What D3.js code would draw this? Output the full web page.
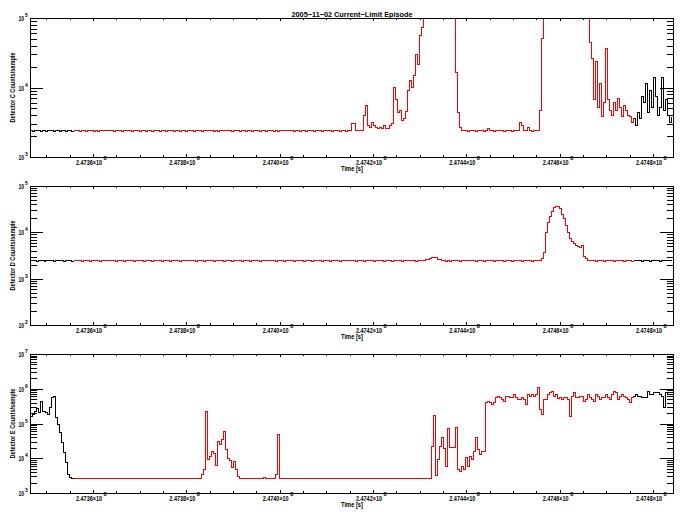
<!DOCTYPE html>
<html>
<head>
<meta charset="utf-8">
<script src="https://cdn.jsdelivr.net/npm/d3@7"></script>
<style>
body { margin: 0; background: #fff; }
svg { display: block; }
text { font-family: "Liberation Sans", Arial, sans-serif; font-weight: bold; fill: #000; }
</style>
</head>
<body>
<svg id="chart" width="684" height="518"></svg>
<script>
'use strict'

const title = '2005\u221211\u221202 Current\u2212Limit Episode'
const xTitle = 'Time [s]'

// sampling grid of the three detector series (seconds)
const t0 = 247346500, dt = 428.57
const tMin = 247346500, tMax = 247484290
// interval drawn in red
const redStart = 247355800, redEnd = 247476200

const xMajor = [247360000, 247380000, 247400000, 247420000, 247440000, 247460000, 247480000]
const xMajorLabels = ['2.4736', '2.4738', '2.4740', '2.4742', '2.4744', '2.4746', '2.4748']

const detC = [
    2370, 2290, 2445, 2370, 2370, 2290, 2445, 2370, 2290, 2370,
    2370, 2445, 2290, 2370, 2445, 2290, 2370, 2370, 2290, 2445,
    2370, 2290, 2370, 2445, 2370, 2290, 2370, 2445, 2290, 2370,
    2370, 2445, 2290, 2370, 2290, 2445, 2370, 2445, 2370, 2445,
    2445, 2370, 2290, 2370, 2370, 2445, 2290, 2370, 2370, 2445,
    2370, 2290, 2370, 2445, 2370, 2290, 2370, 2445, 2290, 2370,
    2370, 2290, 2445, 2370, 2370, 2290, 2445, 2370, 2290, 2370,
    2370, 2445, 2290, 2370, 2445, 2290, 2370, 2370, 2290, 2445,
    2445, 2370, 2290, 2370, 2370, 2445, 2290, 2370, 2370, 2445,
    2370, 2445, 2290, 2370, 2290, 2445, 2370, 2445, 2370, 2445,
    2370, 2290, 2370, 2445, 2370, 2290, 2370, 2445, 2290, 2370,
    2370, 2290, 2445, 2370, 2370, 2290, 2445, 2370, 2290, 2370,
    2370, 2445, 2290, 2370, 2290, 2445, 2370, 2445, 2370, 2445,
    2370, 2445, 2290, 2370, 2445, 2290, 2370, 2370, 2290, 2445,
    2445, 2370, 2290, 2370, 2370, 2445, 2290, 2370, 2370, 2445,
    2370, 2290, 2370, 2445, 2370, 2290, 2370, 2445, 2290, 2370,
    2370, 2985, 2985, 2370, 2370, 2445, 2370, 3890, 5420, 2885,
    2700, 3085, 2885, 2700, 2610, 2700, 2530, 2885, 2610, 2610,
    2795, 2985, 10160, 6610, 4300, 4745, 3405, 3640, 4590, 9200,
    12820, 10000, 14640, 29400, 21090, 56900, 71800, 200000, 200000, 200000,
    200000, 200000, 200000, 200000, 200000, 200000, 200000, 200000, 200000, 200000,
    200000, 200000, 200000, 16200, 4300, 2700, 2370, 2370, 2445, 2290,
    2370, 2445, 2370, 2290, 2370, 2445, 2370, 2290, 2370, 2610,
    2445, 2370, 2290, 2370, 2445, 2370, 2370, 2290, 2445, 2370,
    2370, 2290, 2445, 2370, 2370, 3085, 2800, 2445, 2370, 2700,
    2370, 2290, 2370, 2445, 2370, 4745, 51500, 200000, 200000, 200000,
    200000, 200000, 200000, 200000, 200000, 200000, 200000, 200000, 200000, 200000,
    200000, 200000, 200000, 200000, 200000, 200000, 200000, 200000, 200000, 200000,
    43700, 26500, 6610, 23400, 5240, 11600, 3765, 5985, 37000, 6610,
    4745, 4020, 5985, 4745, 7060, 5240, 3765, 5600, 4745, 4020,
    3765, 3085, 3640, 2885, 4300, 3640, 7300, 5985, 11600, 4440,
    9200, 5240, 14150, 7300, 4020, 5240, 13700, 4745, 6610, 4020,
    3085, 3765
]

const detD = [
    2450, 2500, 2450, 2400, 2450, 2450, 2500, 2400, 2450, 2450,
    2500, 2450, 2400, 2450, 2450, 2500, 2450, 2400, 2450, 2500,
    2450, 2400, 2450, 2450, 2500, 2450, 2400, 2450, 2450, 2500,
    2400, 2450, 2450, 2500, 2450, 2400, 2450, 2450, 2500, 2450,
    2450, 2500, 2450, 2400, 2450, 2450, 2500, 2400, 2450, 2450,
    2500, 2450, 2400, 2450, 2450, 2500, 2450, 2400, 2450, 2500,
    2450, 2400, 2450, 2450, 2500, 2450, 2400, 2450, 2450, 2500,
    2400, 2450, 2450, 2500, 2450, 2400, 2450, 2450, 2500, 2450,
    2450, 2500, 2450, 2400, 2450, 2450, 2500, 2400, 2450, 2450,
    2500, 2450, 2400, 2450, 2450, 2500, 2450, 2400, 2450, 2500,
    2450, 2400, 2450, 2450, 2500, 2450, 2400, 2450, 2450, 2500,
    2400, 2450, 2450, 2500, 2450, 2400, 2450, 2450, 2500, 2450,
    2450, 2500, 2450, 2400, 2450, 2450, 2500, 2400, 2450, 2450,
    2500, 2450, 2400, 2450, 2450, 2500, 2450, 2400, 2450, 2500,
    2450, 2400, 2450, 2450, 2500, 2450, 2400, 2450, 2450, 2500,
    2400, 2450, 2450, 2500, 2450, 2400, 2450, 2450, 2500, 2450,
    2450, 2500, 2450, 2400, 2450, 2450, 2500, 2400, 2450, 2450,
    2500, 2450, 2400, 2450, 2450, 2500, 2450, 2400, 2450, 2500,
    2450, 2400, 2450, 2450, 2500, 2450, 2400, 2450, 2450, 2500,
    2450, 2500, 2450, 2400, 2450, 2500, 2450, 2450, 2550, 2650,
    2750, 2850, 2900, 2800, 2650, 2550, 2500, 2450, 2400, 2450,
    2400, 2450, 2450, 2500, 2450, 2400, 2450, 2450, 2500, 2450,
    2450, 2500, 2450, 2400, 2450, 2450, 2500, 2400, 2450, 2450,
    2500, 2450, 2400, 2450, 2450, 2500, 2450, 2400, 2450, 2500,
    2450, 2400, 2450, 2450, 2500, 2450, 2400, 2450, 2450, 2500,
    2450, 2400, 2450, 2500, 2450, 2450, 2700, 3600, 9750, 16000,
    21900, 28000, 33600, 35900, 36500, 33000, 24500, 19500, 14000, 9800,
    7300, 6300, 5660, 5130, 4900, 4810, 5130, 2970, 2690, 2500,
    2450, 2500, 2450, 2400, 2450, 2450, 2500, 2400, 2450, 2450,
    2500, 2450, 2400, 2450, 2450, 2500, 2450, 2400, 2450, 2500,
    2450, 2400, 2450, 2450, 2500, 2450, 2400, 2450, 2450, 2500,
    2400, 2450, 2450, 2500, 2450, 2400, 2450, 2450, 2500, 2450,
    2450, 2400
]

const detE = [
    160000, 179000, 218800, 270000, 204600, 432600, 222700, 222700, 204600, 179000,
    285000, 552000, 602500, 146800, 92300, 54300, 27990, 14450, 7440, 3365,
    2810, 2530, 2530, 2530, 2530, 2530, 2530, 2530, 2530, 2530,
    2530, 2530, 2530, 2530, 2530, 2530, 2530, 2600, 2530, 2530,
    2530, 2530, 2530, 2530, 2530, 2530, 2530, 2530, 2530, 2530,
    2530, 2530, 2530, 2530, 2600, 2530, 2530, 2530, 2530, 2530,
    2530, 2530, 2530, 2530, 2530, 2530, 2530, 2530, 2530, 2530,
    2530, 2530, 2530, 2530, 2530, 2530, 2530, 2530, 2600, 2530,
    2530, 2530, 2530, 2530, 2530, 2530, 3365, 4900, 222700, 9080,
    11000, 15740, 13800, 6000, 30550, 24550, 34000, 56950, 17620, 10000,
    8500, 5500, 8110, 4685, 3005, 2530, 2530, 2530, 2530, 2530,
    2530, 2530, 2530, 2530, 2530, 2530, 2530, 2755, 2530, 2530,
    2530, 2530, 2530, 3365, 47640, 2700, 2530, 2530, 2530, 2530,
    2530, 2530, 2530, 2530, 2530, 2530, 2530, 2530, 2530, 2530,
    2530, 2530, 2530, 2530, 2530, 2530, 2530, 2530, 2530, 2530,
    2530, 2530, 2530, 2530, 2530, 2530, 2600, 2530, 2530, 2530,
    2530, 2530, 2530, 2530, 2530, 2530, 2530, 2530, 2530, 2530,
    2530, 2530, 2530, 2530, 2530, 2530, 2530, 2530, 2530, 2530,
    2530, 2530, 2530, 2530, 2530, 2530, 2650, 2530, 2530, 2530,
    2530, 2530, 2530, 2530, 2530, 2530, 2530, 2530, 2530, 2530,
    2530, 21080, 167600, 3150, 9500, 21930, 38280, 19000, 5820, 69470,
    20130, 20130, 20130, 79300, 4685, 4190, 5820, 4685, 10370, 5820,
    11300, 9080, 15740, 38280, 17620, 12650, 15740, 15740, 389000, 432600,
    389000, 347500, 415000, 542000, 602500, 542000, 484000, 432600, 602500, 602500,
    542000, 542000, 674000, 542000, 484000, 484000, 542000, 484000, 347500, 674000,
    602500, 674000, 602500, 674000, 1052000, 250000, 179000, 484000, 484000, 674000,
    755000, 839000, 602500, 674000, 510000, 542000, 484000, 542000, 542000, 484000,
    160000, 600000, 755000, 542000, 542000, 602500, 602500, 432600, 484000, 674000,
    542000, 484000, 432600, 674000, 602500, 484000, 542000, 542000, 674000, 542000,
    484000, 674000, 839000, 755000, 484000, 602500, 674000, 602500, 542000, 484000,
    389000, 542000, 602500, 674000, 602500, 602500, 542000, 542000, 542000, 839000,
    674000, 674000, 755000, 755000, 755000, 674000, 602500, 285000, 755000, 674000,
    674000, 720000
]

const panels = [
    { label: 'Detector C Counts/sample', values: detC, top: 18, bottom: 157, lo: 3, hi: 5 },
    { label: 'Detector D Counts/sample', values: detD, top: 186, bottom: 325, lo: 2, hi: 5 },
    { label: 'Detector E Counts/sample', values: detE, top: 354, bottom: 493, lo: 3, hi: 7 }
]

const left = 30, right = 673
const svg = d3.select('#chart')

svg.append('text')
    .attr('x', 352).attr('y', 16.5)
    .attr('text-anchor', 'middle')
    .attr('font-size', 7.5)
    .attr('textLength', 121).attr('lengthAdjust', 'spacingAndGlyphs')
    .text(title)

let x = d3.scaleLinear().domain([tMin, tMax]).range([left, right])
let xMinor = d3.range(247350000, tMax, 5000).filter(t => !xMajor.includes(t))

panels.forEach((p, k) => {
    let y = d3.scaleLog().domain([Math.pow(10, p.lo), Math.pow(10, p.hi)]).range([p.bottom, p.top])
    let g = svg.append('g')

    let clipId = 'clip' + k
    svg.append('clipPath').attr('id', clipId)
        .append('rect').attr('x', left).attr('y', p.top).attr('width', right - left).attr('height', p.bottom - p.top)

    let pts = p.values.map((v, i) => ({ t: t0 + i * dt, v: v }))
    let iA = pts.findIndex(d => d.t >= redStart)
    let iB = pts.length - 1 - pts.slice().reverse().findIndex(d => d.t <= redEnd)
    let line = d3.line().x(d => x(d.t)).y(d => y(d.v)).curve(d3.curveStepAfter)

    let plot = g.append('g').attr('clip-path', `url(#${clipId})`)
    let segs = [
        [pts.slice(0, iA + 1), '#000'],
        [pts.slice(iA, iB + 1), '#ff0000'],
        [pts.slice(iB), '#000']
    ]
    segs.forEach(([d, c]) => {
        plot.append('path').datum(d)
            .attr('d', line).attr('fill', 'none').attr('stroke', c).attr('stroke-width', 1)
            .attr('shape-rendering', 'crispEdges')
    })

    // y axis ticks (log, both sides)
    let yMajor = d3.range(p.lo, p.hi + 1).map(e => Math.pow(10, e))
    let yMinor = []
    for (let e = p.lo; e < p.hi; e++) for (let m = 2; m <= 9; m++) yMinor.push(m * Math.pow(10, e))

    let axes = g.append('g').attr('shape-rendering', 'crispEdges')
    const addAxis = (axis, tr) => {
        axes.append('g').attr('transform', tr).call(axis)
            .call(s => s.selectAll('text').remove())
            .call(s => s.selectAll('line,path').attr('stroke', '#000'))
    }
    addAxis(d3.axisLeft(y).tickValues(yMajor).tickSize(-13).tickSizeOuter(0), `translate(${left},0)`)
    addAxis(d3.axisLeft(y).tickValues(yMinor).tickSize(-6.5).tickSizeOuter(0), `translate(${left},0)`)
    addAxis(d3.axisRight(y).tickValues(yMajor).tickSize(-13).tickSizeOuter(0), `translate(${right},0)`)
    addAxis(d3.axisRight(y).tickValues(yMinor).tickSize(-6.5).tickSizeOuter(0), `translate(${right},0)`)
    addAxis(d3.axisBottom(x).tickValues(xMajor).tickSize(-3).tickSizeOuter(0), `translate(0,${p.bottom})`)
    addAxis(d3.axisBottom(x).tickValues(xMinor).tickSize(-2).tickSizeOuter(0), `translate(0,${p.bottom})`)
    addAxis(d3.axisTop(x).tickValues(xMajor).tickSize(-3).tickSizeOuter(0), `translate(0,${p.top})`)
    addAxis(d3.axisTop(x).tickValues(xMinor).tickSize(-2).tickSizeOuter(0), `translate(0,${p.top})`)

    // y tick labels 10^n
    yMajor.forEach((v, j) => {
        let yy = y(v)
        g.append('text').attr('x', 24).attr('y', yy + 3)
            .attr('text-anchor', 'end').attr('font-size', 7)
            .attr('textLength', 5.5).attr('lengthAdjust', 'spacingAndGlyphs').text('10')
        g.append('text').attr('x', 25).attr('y', yy - 1)
            .attr('font-size', 5).text(p.lo + j)
    })

    // x tick labels 2.47xx×10^8
    xMajor.forEach((t, j) => {
        let xx = x(t)
        g.append('text').attr('x', xx + 9).attr('y', p.bottom + 8)
            .attr('text-anchor', 'end').attr('font-size', 7)
            .attr('textLength', 26).attr('lengthAdjust', 'spacingAndGlyphs')
            .text(xMajorLabels[j] + '\u00d710')
        g.append('text').attr('x', xx + 10.5).attr('y', p.bottom + 2.5)
            .attr('font-size', 5.5).text('8')
    })

    g.append('text').attr('x', 352).attr('y', p.bottom + 14)
        .attr('text-anchor', 'middle').attr('font-size', 7)
        .attr('textLength', 22).attr('lengthAdjust', 'spacingAndGlyphs')
        .text(xTitle)

    g.append('text')
        .attr('transform', `translate(15,${(p.top + p.bottom) / 2}) rotate(-90)`)
        .attr('text-anchor', 'middle').attr('font-size', 7)
        .attr('textLength', 70).attr('lengthAdjust', 'spacingAndGlyphs')
        .text(p.label)
})
</script>
</body>
</html>
